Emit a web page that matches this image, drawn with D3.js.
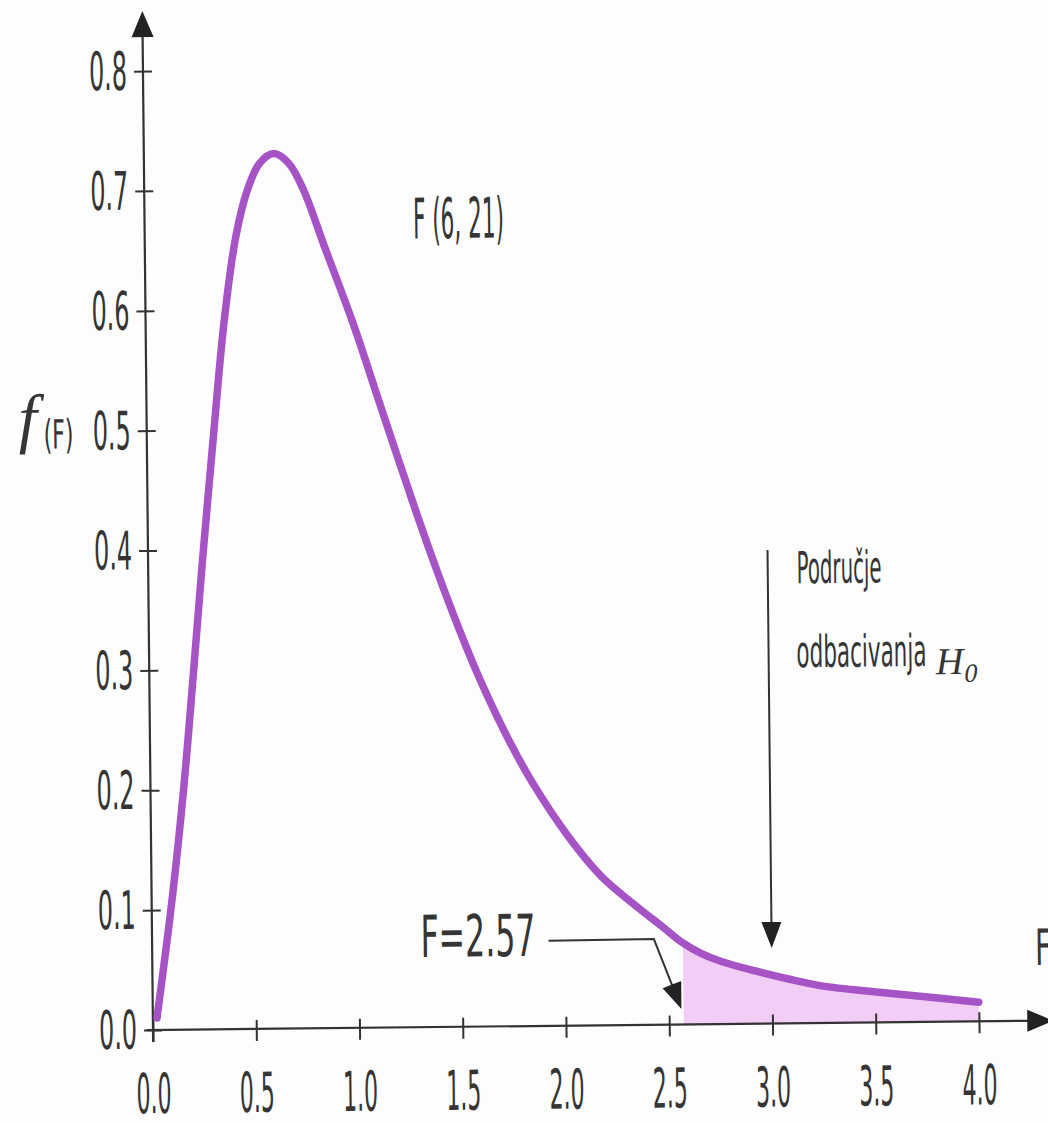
<!DOCTYPE html>
<html>
<head>
<meta charset="utf-8">
<script src="https://cdn.jsdelivr.net/npm/d3@7"></script>
<style>
  html, body { margin: 0; padding: 0; background: #fdfdfd; }
  svg { display: block; }
  .num { font-family: "Liberation Sans Narrow", "DejaVu Sans Condensed", "Liberation Sans", sans-serif; fill: #353535; }
  .math { font-family: "Liberation Serif", "DejaVu Serif", serif; font-style: italic; fill: #353535; }
</style>
</head>
<body>
<svg id="chart"></svg>
<script>
// F(6, 21) density
const fValues = [0.02, 0.10, 0.16, 0.21, 0.26, 0.32, 0.38, 0.44, 0.50, 0.56,
                 0.63, 0.70, 0.77, 0.87, 1.00, 1.14, 1.30, 1.41, 1.52, 1.61,
                 1.74, 1.85, 2.02, 2.18, 2.34, 2.47, 2.57, 2.66, 2.76, 2.92,
                 3.08, 3.24, 3.53, 3.79, 4.00];
const density = [0.010, 0.110, 0.200, 0.290, 0.385, 0.490, 0.590, 0.660, 0.700, 0.722,
                 0.730, 0.722, 0.700, 0.652, 0.590, 0.515, 0.430, 0.375, 0.324, 0.286,
                 0.238, 0.203, 0.158, 0.124, 0.100, 0.082, 0.068, 0.059, 0.052, 0.044,
                 0.037, 0.031, 0.025, 0.020, 0.016];

const xTicks = [0, 0.5, 1.0, 1.5, 2.0, 2.5, 3.0, 3.5, 4.0];
const yTicks = [0, 0.1, 0.2, 0.3, 0.4, 0.5, 0.6, 0.7, 0.8];

const critical = 2.57;
const tailEnd = 4.0;
const curveLabel = 'F (6, 21)';
const criticalLabel = 'F=2.57';
const regionLabel = ['Područje', 'odbacivanja'];

function drawChart() {
    const width = 1048;
    const height = 1123;
    const ink = '#333';

    const x = d3.scaleLinear().domain([0, 4]).range([153, 979]);
    const y = d3.scaleLinear().domain([0, 0.8]).range([1030, 71]);

    const svg = d3.select('#chart')
                  .attr('width', width)
                  .attr('height', height);

    svg.append('rect')
       .attr('width', width)
       .attr('height', height)
       .attr('fill', '#fdfdfd');

    // the scan is a little crooked
    const g = svg.append('g')
                 .attr('transform', `rotate(-0.6, ${x(0)}, ${y(0)})`);

    const data = fValues.map((f, i) => ({ f: f, d: density[i] }));

    // rejection region
    g.append('path')
     .datum(data.filter(p => p.f >= critical && p.f <= tailEnd))
     .attr('fill', '#f2cdf5')
     .attr('d', d3.area()
                  .x(p => x(p.f))
                  .y0(y(0))
                  .y1(p => y(p.d))
                  .curve(d3.curveCatmullRom));

    // y axis
    const yAxis = g.append('g')
        .attr('transform', `translate(${x(0)},0)`)
        .call(d3.axisLeft(y).tickValues(yTicks).tickFormat(d3.format('.1f')).tickSize(9));
    yAxis.select('.domain').remove();
    yAxis.selectAll('.tick line')
         .attr('x1', -9).attr('x2', 9)
         .attr('stroke', ink).attr('stroke-width', 2);
    yAxis.selectAll('.tick text')
         .attr('class', 'num')
         .attr('x', -16)
         .attr('dy', '0.34em')
         .attr('font-size', 53)
         .attr('textLength', 38)
         .attr('lengthAdjust', 'spacingAndGlyphs');

    // x axis
    const xAxis = g.append('g')
        .attr('transform', `translate(0,${y(0)})`)
        .call(d3.axisBottom(x).tickValues(xTicks).tickFormat(d3.format('.1f')).tickSize(10));
    xAxis.select('.domain').remove();
    xAxis.selectAll('.tick line')
         .attr('y1', -9).attr('y2', 12)
         .attr('stroke', ink).attr('stroke-width', 2);
    xAxis.selectAll('.tick text')
         .attr('class', 'num')
         .attr('y', 83)
         .attr('dy', 0)
         .attr('font-size', 55)
         .attr('textLength', 35)
         .attr('lengthAdjust', 'spacingAndGlyphs');

    // axis lines with arrow heads
    const yTip = y(0.85);
    const xTip = x(4.36);
    g.append('line')
     .attr('x1', x(0)).attr('y1', y(-0.01))
     .attr('x2', x(0)).attr('y2', yTip + 20)
     .attr('stroke', ink).attr('stroke-width', 2.2);
    g.append('path')
     .attr('d', `M${x(0)},${yTip} L${x(0) - 11},${yTip + 26} L${x(0) + 11},${yTip + 26} Z`)
     .attr('fill', '#222');
    g.append('line')
     .attr('x1', x(-0.03)).attr('y1', y(0))
     .attr('x2', xTip - 20).attr('y2', y(0))
     .attr('stroke', ink).attr('stroke-width', 2.2);
    g.append('path')
     .attr('d', `M${xTip},${y(0)} L${xTip - 26},${y(0) - 11} L${xTip - 26},${y(0) + 11} Z`)
     .attr('fill', '#222');

    // density curve
    g.append('path')
     .datum(data)
     .attr('fill', 'none')
     .attr('stroke', '#a653c6')
     .attr('stroke-width', 7.5)
     .attr('stroke-linecap', 'round')
     .attr('stroke-linejoin', 'round')
     .attr('d', d3.line()
                  .x(p => x(p.f))
                  .y(p => y(p.d))
                  .curve(d3.curveCatmullRom));

    // labels
    g.append('text')
     .attr('class', 'num')
     .attr('x', x(1.30)).attr('y', y(0.658))
     .attr('font-size', 56)
     .attr('textLength', 91)
     .attr('lengthAdjust', 'spacingAndGlyphs')
     .text(curveLabel);

    g.append('text')
     .attr('class', 'math')
     .attr('x', x(-0.62)).attr('y', y(0.493))
     .attr('font-size', 66)
     .text('f');
    g.append('text')
     .attr('class', 'num')
     .attr('x', x(-0.50)).attr('y', y(0.486))
     .attr('font-size', 40)
     .attr('textLength', 30)
     .attr('lengthAdjust', 'spacingAndGlyphs')
     .text('(F)');

    g.append('text')
     .attr('class', 'num')
     .attr('x', x(4.275)).attr('y', y(0.0465))
     .attr('font-size', 50)
     .attr('textLength', 16)
     .attr('lengthAdjust', 'spacingAndGlyphs')
     .text('F');

    // F = 2.57 pointer
    g.append('text')
     .attr('class', 'num')
     .attr('x', x(1.30)).attr('y', y(0.0585))
     .attr('font-size', 58)
     .attr('textLength', 115)
     .attr('lengthAdjust', 'spacingAndGlyphs')
     .text(criticalLabel);

    const knee = [x(2.43), y(0.0715)];
    const tip = [x(2.56), y(0.013)];
    const dx = tip[0] - knee[0], dy = tip[1] - knee[1];
    const len = Math.hypot(dx, dy);
    const ux = dx / len, uy = dy / len;
    const base = [tip[0] - ux * 26, tip[1] - uy * 26];
    g.append('path')
     .attr('d', `M${x(1.92)},${y(0.071)} L${knee[0]},${knee[1]} L${base[0] + ux * 4},${base[1] + uy * 4}`)
     .attr('fill', 'none')
     .attr('stroke', ink)
     .attr('stroke-width', 2);
    g.append('path')
     .attr('d', `M${tip[0]},${tip[1]} L${base[0] - uy * 10},${base[1] + ux * 10} L${base[0] + uy * 10},${base[1] - ux * 10} Z`)
     .attr('fill', '#222');

    // rejection region arrow
    const ax = x(3.0);
    const aTip = y(0.063);
    g.append('line')
     .attr('x1', ax).attr('y1', y(0.395))
     .attr('x2', ax).attr('y2', aTip - 20)
     .attr('stroke', ink).attr('stroke-width', 2);
    g.append('path')
     .attr('d', `M${ax},${aTip} L${ax - 10},${aTip - 26} L${ax + 10},${aTip - 26} Z`)
     .attr('fill', '#222');

    g.append('text')
     .attr('class', 'num')
     .attr('x', x(3.14)).attr('y', y(0.367))
     .attr('font-size', 44)
     .attr('textLength', 85)
     .attr('lengthAdjust', 'spacingAndGlyphs')
     .text(regionLabel[0]);
    g.append('text')
     .attr('class', 'num')
     .attr('x', x(3.135)).attr('y', y(0.297))
     .attr('font-size', 44)
     .attr('textLength', 130)
     .attr('lengthAdjust', 'spacingAndGlyphs')
     .text(regionLabel[1]);
    const h0 = g.append('text')
     .attr('class', 'math')
     .attr('x', x(3.81)).attr('y', y(0.290))
     .attr('font-size', 38);
    h0.append('tspan').text('H');
    h0.append('tspan').attr('font-size', 26).attr('dx', 1).attr('dy', 8).text('0');
}

drawChart();
</script>
</body>
</html>
